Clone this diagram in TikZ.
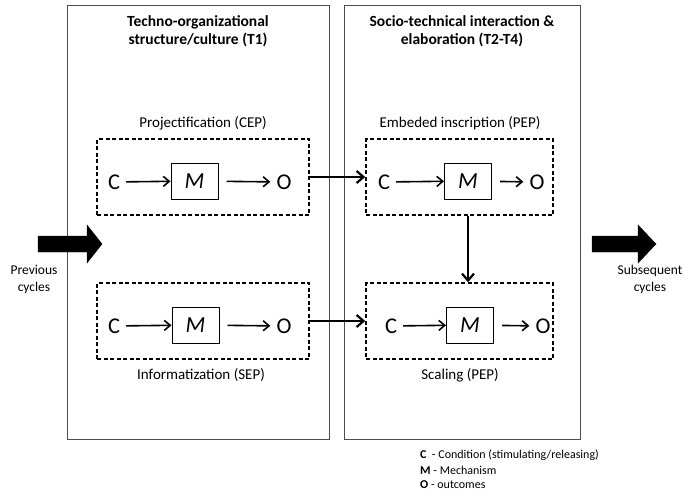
\documentclass[tikz,border=0pt]{standalone}
\usepackage{fontspec}
\setmainfont{Carlito}
\usetikzlibrary{arrows.meta}

\tikzset{
  panel/.style={draw=black!70, line width=0.9pt, inner sep=0pt, anchor=north west},
  paneltitle/.style={font=\bfseries\fontsize{15.5}{18.5}\selectfont, align=center},
  phase/.style={draw, line width=1.5pt, dash pattern=on 4pt off 2.5pt, inner sep=0pt},
  phaselabel/.style={font=\fontsize{15}{18}\selectfont},
  mech/.style={draw, line width=1pt, minimum width=47pt, minimum height=36pt, inner sep=0pt,
    font=\fontsize{23}{23}\selectfont\itshape},
  letter/.style={font=\fontsize{22.5}{22.5}\selectfont, inner sep=1pt},
  flow/.style={-{Straight Barb[length=6pt,width=10pt]}, line width=1.6pt},
  link/.style={-{Straight Barb[length=7pt,width=12pt]}, line width=2.2pt},
  blockarrow/.style={fill=black, draw=black},
  sidetext/.style={font=\fontsize{13.5}{17}\selectfont, align=center},
  legend/.style={font=\fontsize{12}{15}\selectfont, anchor=west, inner sep=0pt}
}

\begin{document}
\begin{tikzpicture}[x=1pt, y=-1pt]
\useasboundingbox (0,0) rectangle (685,491);

% the two time panels
\node (left)  [panel, minimum width=262pt, minimum height=434pt] at (67,5) {};
\node (right) [panel, minimum width=236pt, minimum height=434pt] at (344,5) {};
\node (lefttitle)  [paneltitle] at (198,31) {Techno-organizational\\structure/culture (T1)};
\node (righttitle) [paneltitle] at (462,31) {Socio-technical interaction \&\\elaboration (T2-T4)};

% phase boxes
\node (tl) [phase, minimum width=212pt, minimum height=76pt] at (203,177) {};
\node (tr) [phase, minimum width=187pt, minimum height=76pt] at (459.5,177) {};
\node (bl) [phase, minimum width=212pt, minimum height=76pt] at (203,321) {};
\node (br) [phase, minimum width=187pt, minimum height=76pt] at (459.5,321) {};

\node (tllabel) [phaselabel] at (203,123) {Projectification (CEP)};
\node (trlabel) [phaselabel] at (460,123) {Embeded inscription (PEP)};
\node (bllabel) [phaselabel] at (201,375) {Informatization (SEP)};
\node (brlabel) [phaselabel] at (460,375) {Scaling (PEP)};

% condition -> mechanism -> outcome chains
\node (c1) [letter] at (114,182) {C};
\node (m1) [mech]   at (194.5,181) {M};
\node (o1) [letter] at (284,182) {O};

\node (c2) [letter] at (384,182) {C};
\node (m2) [mech]   at (468,181) {M};
\node (o2) [letter] at (537,182) {O};

\node (c3) [letter] at (114,326) {C};
\node (m3) [mech]   at (195.5,325) {M};
\node (o3) [letter] at (284,326) {O};

\node (c4) [letter] at (391,326) {C};
\node (m4) [mech]   at (470,325) {M};
\node (o4) [letter] at (543,326) {O};

\foreach \i in {1,2,3,4}{
  \draw[flow, shorten <=5pt] (c\i) -- (m\i);
  \draw[flow, shorten <=8pt, shorten >=5pt] (m\i) -- (o\i);
}

% links between phases
\draw[link] (tl.east) -- (tr.west);
\draw[link] (bl.east) -- (br.west);
\draw[link] (tr.south -| m2) -- (br.north -| m2);

% cycle arrows
\coordinate (prevtip) at (102,244);
\coordinate (nexttip) at (656,244);
\fill[blockarrow] (38,236) -- (87,236) -- (87,225) -- (prevtip) -- (87,263) -- (87,252) -- (38,252) -- cycle;
\fill[blockarrow] (592,236) -- (638,236) -- (638,225) -- (nexttip) -- (638,263) -- (638,252) -- (592,252) -- cycle;
\node (prev) [sidetext] at (34,279) {Previous\\cycles};
\node (next) [sidetext] at (650,279) {Subsequent\\cycles};

% key
\node (keyc) [legend] at (420,455) {\textbf{C}\ \ - Condition (stimulating/releasing)};
\node (keym) [legend] at (420,470) {\textbf{M} - Mechanism};
\node (keyo) [legend] at (420,485) {\textbf{O} - outcomes};
\end{tikzpicture}
\end{document}
